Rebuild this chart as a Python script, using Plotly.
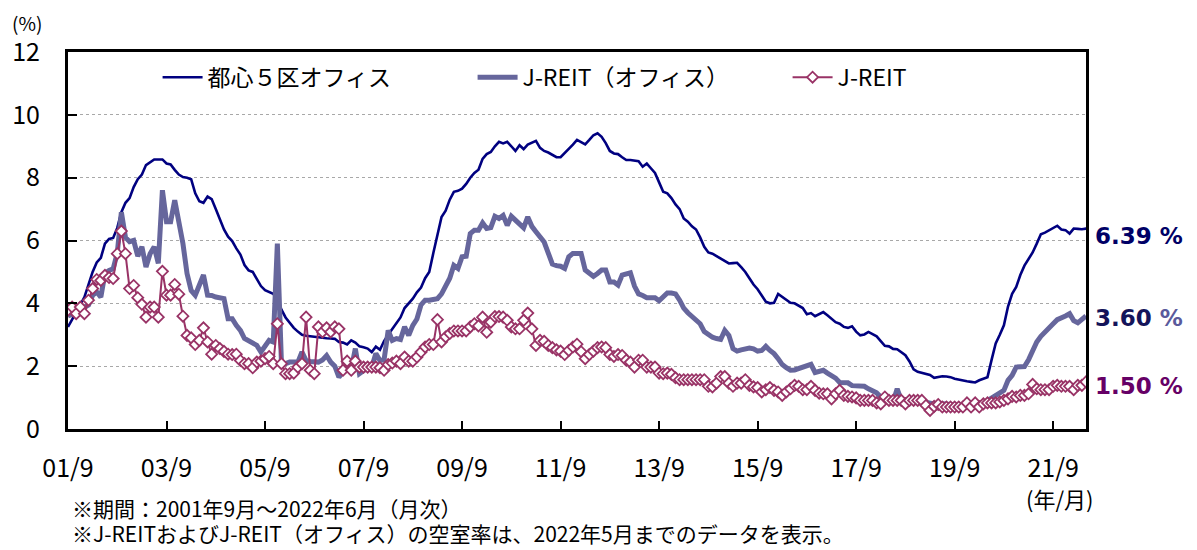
import plotly.graph_objects as go

# 2001/9 .. 2022/6 monthly (都心5区), 2001/9 .. 2022/5 (J-REIT series)
toshin5 = [
    3.25, 3.5, 3.7, 3.95, 4.2, 4.6, 5.0, 5.3, 5.45, 5.9, 6.05, 6.08,
    6.4, 6.9, 7.2, 7.35, 7.7, 7.95, 8.1, 8.4, 8.5, 8.58, 8.58, 8.58,
    8.45, 8.42, 8.25, 8.1, 8.02, 8.0, 7.95, 7.5, 7.25, 7.2, 7.4, 7.32,
    7.0, 6.7, 6.35, 6.12, 5.98, 5.75, 5.55, 5.22, 5.05, 5.0, 4.75, 4.55,
    4.42, 4.35, 4.3, 4.15, 3.8, 3.55, 3.38, 3.22, 3.1, 3.0, 2.97, 2.95,
    2.93, 2.92, 2.9, 2.89, 2.88, 2.87, 2.77, 2.75, 2.69, 2.82, 2.75, 2.63,
    2.6, 2.56, 2.45, 2.62, 2.52, 2.8, 3.0, 3.18, 3.35, 3.55, 3.85, 4.0,
    4.15, 4.35, 4.5, 4.8, 5.0, 5.6, 6.2, 6.75, 6.95, 7.3, 7.55, 7.58,
    7.65, 7.8, 8.0, 8.15, 8.25, 8.6, 8.75, 8.82, 9.0, 9.14, 9.09, 9.14,
    9.0, 8.85, 9.03, 8.91, 9.05, 9.1, 9.17, 8.95, 8.85, 8.8, 8.72, 8.65,
    8.65, 8.78, 8.9, 9.05, 9.2, 9.12, 9.06, 9.2, 9.35, 9.41, 9.3, 9.1,
    8.85, 8.77, 8.75, 8.65, 8.56, 8.56, 8.55, 8.52, 8.35, 8.45, 8.3, 8.15,
    7.85, 7.55, 7.5, 7.35, 7.15, 7.0, 6.7, 6.6, 6.45, 6.35, 6.1, 5.8,
    5.62, 5.58, 5.5, 5.42, 5.35, 5.27, 5.28, 5.29, 5.15, 5.0, 4.8, 4.6,
    4.45, 4.25, 4.05, 4.0, 4.02, 4.3, 4.2, 4.1, 4.02, 4.0, 3.92, 3.85,
    3.65, 3.69, 3.59, 3.65, 3.72, 3.62, 3.5, 3.4, 3.35, 3.25, 3.22, 3.27,
    3.1, 2.98, 3.01, 3.09, 3.02, 2.95, 2.8, 2.65, 2.63, 2.55, 2.54, 2.45,
    2.35, 2.15, 1.9, 1.82, 1.78, 1.75, 1.72, 1.63, 1.65, 1.68, 1.67, 1.65,
    1.6, 1.57, 1.53, 1.52, 1.5, 1.48, 1.55, 1.6, 1.65, 2.2, 2.72, 3.0,
    3.3, 3.9, 4.3, 4.52, 4.9, 5.2, 5.4, 5.62, 5.9, 6.2, 6.25, 6.32,
    6.4, 6.47, 6.35, 6.33, 6.22, 6.38, 6.37, 6.36, 6.38, 6.39,
]

jreit_office = [
    3.6, 3.65, 3.7, 3.8, 3.88, 3.95, 4.26, 4.36, 4.2, 4.95, 5.05, 5.1,
    5.6, 6.9, 6.1, 5.96, 6.0, 5.5, 5.8, 5.16, 5.58, 5.8, 5.27, 7.6,
    6.6, 6.6, 7.28, 6.65, 5.9, 4.95, 4.41, 4.26, 4.6, 4.9, 4.26, 4.25,
    4.2, 4.18, 4.15, 3.51, 3.51, 3.3, 3.14, 2.88, 2.82, 2.75, 2.66, 2.45,
    2.66, 2.82, 2.77, 5.9, 2.1, 2.08, 2.13, 2.13, 2.13, 2.45, 2.18, 2.15,
    2.13, 2.13, 2.2, 2.34, 2.13, 2.0, 1.65, 1.81, 1.97, 1.9, 2.56, 1.76,
    1.87, 1.95, 1.97, 2.4, 2.18, 2.2, 3.14, 2.82, 2.88, 2.85, 3.25, 2.98,
    3.3, 3.5, 3.95, 4.1, 4.1, 4.12, 4.15, 4.3, 4.52, 4.8, 5.21, 5.11,
    5.48, 5.5, 6.22, 6.33, 6.33, 6.56, 6.38, 6.41, 6.77, 6.7, 6.8, 6.48,
    6.77, 6.65, 6.5, 6.4, 6.75, 6.45, 6.28, 6.12, 5.95, 5.6, 5.25, 5.2,
    5.18, 5.11, 5.48, 5.59, 5.59, 5.59, 5.06, 4.95, 4.86, 4.95, 5.06, 5.06,
    4.68, 4.68, 4.58, 4.9, 4.95, 4.97, 4.55, 4.3, 4.25, 4.18, 4.18, 4.18,
    4.08, 4.2, 4.33, 4.33, 4.3, 4.1, 3.85, 3.7, 3.58, 3.45, 3.35, 3.1,
    3.0, 2.92, 2.88, 2.85, 3.14, 2.98, 2.56, 2.48, 2.52, 2.56, 2.58, 2.55,
    2.48, 2.5, 2.63, 2.5, 2.4, 2.24, 2.05, 1.95, 1.87, 1.88, 1.92, 1.97,
    2.0, 2.06, 1.8, 1.84, 1.87, 1.78, 1.72, 1.62, 1.48, 1.47, 1.47, 1.38,
    1.37, 1.39, 1.36, 1.28, 1.22, 1.15, 1.02, 0.96, 0.91, 0.86, 1.28, 0.91,
    0.93, 0.93, 0.93, 0.91, 0.88, 0.86, 0.8, 0.8, 0.82, 0.8, 0.78, 0.78,
    0.77, 0.75, 0.76, 0.78, 0.78, 0.79, 0.8, 0.85, 0.9, 0.98, 1.07, 1.15,
    1.23, 1.55, 1.71, 1.97, 1.98, 1.99, 2.2, 2.5, 2.77, 2.95, 3.1, 3.25,
    3.35, 3.48, 3.56, 3.6, 3.67, 3.45, 3.38, 3.48, 3.6,
]

jreit = [
    3.78, 3.88, 3.67, 3.88, 3.67, 4.1, 4.47, 4.76, 4.73, 4.89, 4.82, 4.79,
    5.58, 6.3, 5.58, 4.47, 4.57, 4.18, 3.97, 3.56, 3.88, 3.88, 3.56, 5.02,
    4.26, 4.26, 4.6, 4.29, 3.59, 2.98, 2.9, 2.69, 2.82, 3.22, 2.77, 2.38,
    2.66, 2.56, 2.47, 2.38, 2.37, 2.38, 2.18, 2.08, 2.08, 1.95, 2.13, 2.16,
    2.24, 2.31, 2.08, 3.35, 2.08, 1.76, 1.76, 1.78, 1.97, 2.08, 3.56, 1.87,
    1.76, 3.25, 3.09, 3.22, 3.09, 3.25, 3.19, 1.87, 2.16, 1.87, 2.16, 1.97,
    1.97, 1.97, 1.97, 1.97, 1.95, 1.87, 2.05, 2.1, 2.16, 2.08, 2.29, 2.16,
    2.16, 2.29, 2.45, 2.61, 2.69, 2.69, 3.48, 2.77, 2.93, 3.04, 3.12, 3.12,
    3.12, 3.12, 3.25, 3.35, 3.28, 3.56, 3.08, 3.4, 3.58, 3.58, 3.56, 3.46,
    3.25, 3.19, 3.19, 3.46, 3.69, 3.19, 2.66, 2.82, 2.79, 2.66, 2.59, 2.52,
    2.48, 2.37, 2.5, 2.61, 2.7, 2.46, 2.24, 2.37, 2.48, 2.59, 2.61, 2.59,
    2.37, 2.31, 2.37, 2.34, 2.19, 2.13, 1.97, 2.19, 2.19, 1.97, 1.97, 1.97,
    1.78, 1.76, 1.78, 1.74, 1.63, 1.57, 1.57, 1.57, 1.57, 1.57, 1.57, 1.57,
    1.36, 1.34, 1.46, 1.67, 1.67, 1.46, 1.36, 1.46, 1.46, 1.57, 1.39, 1.34,
    1.32, 1.18, 1.25, 1.32, 1.23, 1.18, 1.07, 1.18, 1.28, 1.39, 1.36, 1.25,
    1.25, 1.36, 1.23, 1.14, 1.12, 1.12, 0.96, 1.12, 1.23, 1.07, 1.04, 1.02,
    0.99, 0.91, 0.91, 0.91, 0.91, 0.83, 0.8, 1.02, 0.91, 0.91, 0.91, 0.91,
    0.8, 0.91, 0.91, 0.91, 0.91, 0.75, 0.59, 0.72, 0.78, 0.7, 0.7, 0.7,
    0.7, 0.7, 0.7, 0.83, 0.7, 0.83, 0.7, 0.8, 0.83, 0.83, 0.83, 0.86,
    0.91, 0.96, 1.04, 1.02, 1.07, 1.07, 1.12, 1.42, 1.28, 1.25, 1.25, 1.25,
    1.36, 1.39, 1.36, 1.36, 1.36, 1.25, 1.39, 1.39, 1.5,
]

tick_months = [0, 24, 48, 72, 96, 120, 144, 168, 192, 216, 240]
tick_labels = ["01/9", "03/9", "05/9", "07/9", "09/9", "11/9",
               "13/9", "15/9", "17/9", "19/9", "21/9"]
series_names = ["都心５区オフィス", "J-REIT（オフィス）", "J-REIT"]
end_labels = ["6.39", "3.60", "1.50"]

JP = "Noto Sans CJK JP, Noto Sans, sans-serif"
NAVY = "#000080"
SLATE = "#66669c"
MAROON = "#993366"

fig = go.Figure()
fig.add_trace(go.Scatter(
    x=list(range(len(toshin5))), y=toshin5, name=series_names[0],
    mode="lines", line=dict(color=NAVY, width=2.6)))
fig.add_trace(go.Scatter(
    x=list(range(len(jreit_office))), y=jreit_office, name=series_names[1],
    mode="lines", line=dict(color=SLATE, width=5)))
fig.add_trace(go.Scatter(
    x=list(range(len(jreit))), y=jreit, name=series_names[2],
    mode="lines+markers", line=dict(color=MAROON, width=2),
    marker=dict(symbol="diamond", size=8.5, color="white",
                line=dict(color=MAROON, width=1.8))))

# page body has an 8px margin: figure is drawn from (8, 8)
fig.update_layout(
    width=1189, height=542,
    margin=dict(l=60, r=111, t=44, b=121, autoexpand=False),
    paper_bgcolor="white", plot_bgcolor="white",
    font=dict(family=JP, size=22, color="#000000"),
    showlegend=True,
    legend=dict(orientation="h", x=0.088, y=0.99, xanchor="left", yanchor="top",
                font=dict(family=JP, size=23), bgcolor="rgba(0,0,0,0)",
                entrywidth=260, entrywidthmode="pixels", itemwidth=40),
)

fig.update_xaxes(
    range=[0, 248], tickvals=tick_months, ticktext=tick_labels,
    showline=True, linecolor="black", linewidth=3, mirror=True,
    ticks="inside", ticklen=8, tickwidth=2, tickcolor="black",
    showgrid=False, zeroline=False, ticklabelstandoff=15, automargin=False,
    tickfont=dict(family=JP, size=25, color="black"),
)
fig.update_yaxes(
    range=[0, 12], dtick=2, tick0=0,
    showline=True, linecolor="black", linewidth=3, mirror=True,
    ticks="inside", ticklen=9, tickwidth=2, tickcolor="black",
    showgrid=True, gridcolor="#a8a8a8", gridwidth=1, griddash="dot",
    zeroline=False, ticklabelstandoff=20, automargin=False,
    tickfont=dict(family=JP, size=25, color="black"),
)

annots = [
    dict(text="(%)", x=-0.057, y=1.079, xanchor="left", yanchor="middle",
         font=dict(family=JP, size=19)),
    dict(text="(年/月)", x=0.974, y=-0.182, xanchor="center", yanchor="middle",
         font=dict(family=JP, size=22)),
    dict(text="※期間：2001年9月～2022年6月（月次）", x=0.002, y=-0.209,
         xanchor="left", yanchor="middle", font=dict(family=JP, size=21)),
    dict(text="※J-REITおよびJ-REIT（オフィス）の空室率は、2022年5月までのデータを表示。",
         x=0.002, y=-0.277, xanchor="left", yanchor="middle",
         font=dict(family=JP, size=21)),
]
for a in annots:
    a.update(xref="paper", yref="paper", showarrow=False)
    fig.add_annotation(**a)

BOLD = "DejaVu Sans, Verdana, sans-serif"
end_specs = [
    (toshin5[-1] - 0.25, f"<b>{end_labels[0]} <span style='color:#000066'>%</span></b>", "#000066"),
    (jreit_office[-1] - 0.08, f"<b>{end_labels[1]} <span style='color:#5a5a9c'>%</span></b>", "#14145a"),
    (jreit[-1] - 0.14, f"<b>{end_labels[2]} <span style='color:#660066'>%</span></b>", "#660066"),
]
for yv, txt, col in end_specs:
    fig.add_annotation(text=txt, x=1.007, y=yv, xref="paper", yref="y",
                       xanchor="left", yanchor="middle", showarrow=False,
                       font=dict(family=BOLD, size=23, color=col))

fig.write_html("out.html", config={"displayModeBar": False})
